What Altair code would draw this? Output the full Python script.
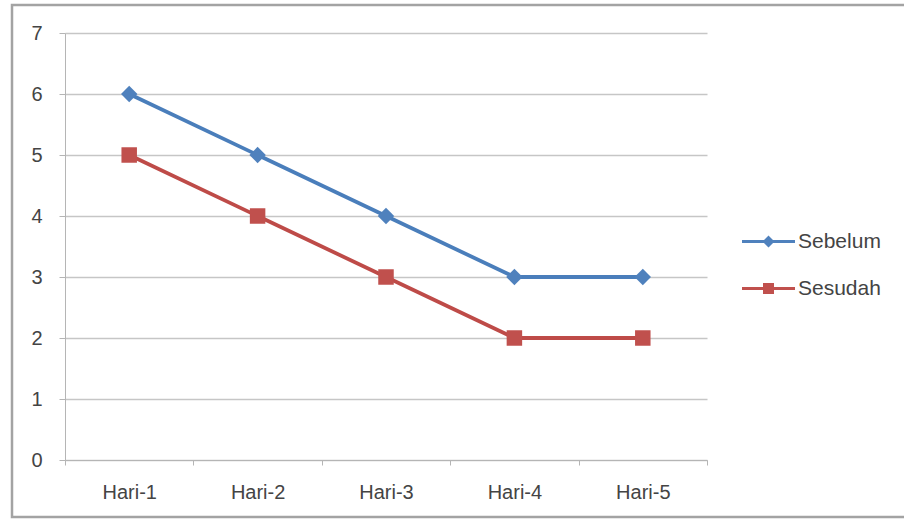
import altair as alt
import pandas as pd

categories = ["Hari-1", "Hari-2", "Hari-3", "Hari-4", "Hari-5"]
sebelum = [6, 5, 4, 3, 3]
sesudah = [5, 4, 3, 2, 2]
series_names = ["Sebelum", "Sesudah"]
y_ticks = [0, 1, 2, 3, 4, 5, 6, 7]

line_colors = ["#4a7ebb", "#be4b48"]
marker_colors = ["#4f81bd", "#c0504d"]

rows = []
for c, a, b in zip(categories, sebelum, sesudah):
    rows.append({"hari": c, "nilai": a, "seri": "Sebelum"})
    rows.append({"hari": c, "nilai": b, "seri": "Sesudah"})
df = pd.DataFrame(rows)

FONT = "Liberation Sans"
TXT = "#444444"

x_enc = alt.X("hari:N", sort=categories, title=None,
              scale=alt.Scale(type="band", paddingInner=0, paddingOuter=0),
              axis=alt.Axis(labelAngle=0, tickBand="extent", tickSize=5,
                            labelPadding=17, domainColor="#b5b5b5",
                            tickColor="#b5b5b5", grid=False,
                            labelFont=FONT, labelFontSize=20, labelColor=TXT))
y_enc = alt.Y("nilai:Q", title=None,
              scale=alt.Scale(domain=[0, 7], nice=False, zero=True),
              axis=alt.Axis(values=y_ticks, tickSize=6, labelPadding=17,
                            domainColor="#b5b5b5", tickColor="#b5b5b5",
                            gridColor="#c6c6c6", gridWidth=1.5,
                            labelFont=FONT, labelFontSize=20, labelColor=TXT))

lines = alt.Chart(df).mark_line(strokeWidth=3.8).encode(
    x=x_enc, y=y_enc,
    color=alt.Color("seri:N", scale=alt.Scale(domain=series_names, range=line_colors), legend=None),
)

points = alt.Chart(df).mark_point(filled=True, opacity=1).encode(
    x=x_enc, y=y_enc,
    color=alt.Color("seri:N", scale=alt.Scale(domain=series_names, range=marker_colors), legend=None),
    shape=alt.Shape("seri:N", scale=alt.Scale(domain=series_names, range=["diamond", "square"]), legend=None),
    size=alt.Size("seri:N", scale=alt.Scale(domain=series_names, range=[270, 240]), legend=None),
)

diamond_path = "M-2.65,-0.14H2.65V0.14H-2.65Z M0,-0.6L0.6,0L0,0.6L-0.6,0Z"
square_path = "M-2.65,-0.14H2.65V0.14H-2.65Z M-0.55,-0.55H0.55V0.55H-0.55Z"

leg = alt.Legend(orient="none", legendX=693, legendY=198, title=None,
                 padding=0, rowPadding=25, labelOffset=19,
                 symbolSize=400, symbolStrokeWidth=0,
                 labelFont=FONT, labelFontSize=21, labelColor=TXT)

legend_layer = alt.Chart(df).transform_filter("false").mark_point(
    filled=True, opacity=1, size=400
).encode(
    color=alt.Color("seri:N", scale=alt.Scale(domain=series_names, range=marker_colors), legend=leg),
    shape=alt.Shape("seri:N", scale=alt.Scale(domain=series_names, range=[diamond_path, square_path]), legend=leg),
)

frame = alt.Chart(pd.DataFrame({"k": [0]})).mark_rect(
    fill=None, stroke="#a3a3a3", strokeWidth=2.5
).encode(
    x=alt.value(-53), x2=alt.value(845), y=alt.value(-28), y2=alt.value(484)
)

chart = alt.layer(frame, lines, points, legend_layer).resolve_scale(
    color="independent", shape="independent", size="independent"
).properties(
    width=642, height=427,
    autosize=alt.AutoSizeParams(type="none"),
    padding={"left": 65, "top": 33, "right": 197, "bottom": 61},
    background="white",
).configure_view(stroke=None)

chart.save("out.html", embed_options={"renderer": "svg", "actions": False})
